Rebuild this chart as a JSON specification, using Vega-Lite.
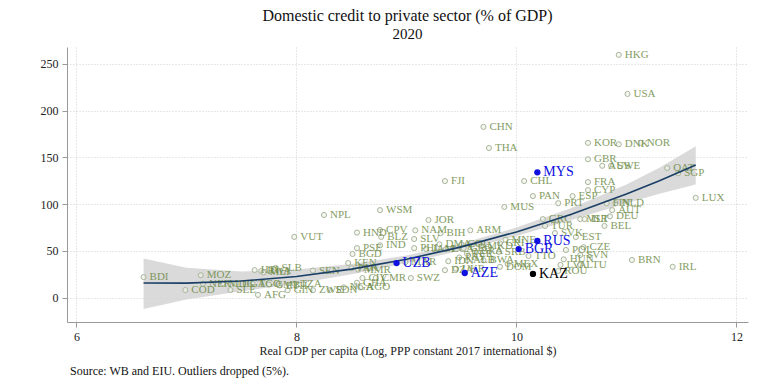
{
  "$schema": "https://vega.github.io/schema/vega-lite/v6.json",
  "padding": {"left": 40, "top": 8, "right": 30, "bottom": 8},
  "title": {"text": "Source: WB and EIU. Outliers dropped (5%).", "orient": "bottom", "anchor": "start", "dx": 30, "font": "Liberation Serif", "fontSize": 12, "fontWeight": "normal", "color": "#111", "offset": 10},
  "datasets": {
    "fit": [
      {"x": 6.61, "y": 15.7, "lo": -12, "hi": 42},
      {"x": 7.0, "y": 15.6, "lo": -2, "hi": 32},
      {"x": 7.5, "y": 17.8, "lo": 7, "hi": 28},
      {"x": 8.0, "y": 22.7, "lo": 15, "hi": 30},
      {"x": 8.5, "y": 30.5, "lo": 25, "hi": 36},
      {"x": 9.0, "y": 41, "lo": 37, "hi": 45},
      {"x": 9.5, "y": 54.3, "lo": 50.5, "hi": 58},
      {"x": 10.0, "y": 70.3, "lo": 66, "hi": 75},
      {"x": 10.5, "y": 89.2, "lo": 83, "hi": 96},
      {"x": 11.0, "y": 110.8, "lo": 101, "hi": 121},
      {"x": 11.3, "y": 125, "lo": 111, "hi": 139},
      {"x": 11.63, "y": 141.9, "lo": 121, "hi": 162}
    ],
    "pts": [
      {"code": "HKG", "x": 10.93, "y": 259.6, "grp": "other"},
      {"code": "USA", "x": 11.01, "y": 217.8, "grp": "other"},
      {"code": "CHN", "x": 9.70, "y": 182.6, "grp": "other"},
      {"code": "THA", "x": 9.75, "y": 160, "grp": "other"},
      {"code": "KOR", "x": 10.65, "y": 165.5, "grp": "other"},
      {"code": "DNK", "x": 10.93, "y": 164, "grp": "other"},
      {"code": "NOR", "x": 11.13, "y": 165.5, "grp": "other"},
      {"code": "GBR", "x": 10.65, "y": 148, "grp": "other"},
      {"code": "AUS", "x": 10.78, "y": 141, "grp": "other"},
      {"code": "SWE", "x": 10.86, "y": 141, "grp": "other"},
      {"code": "QAT", "x": 11.37, "y": 138.6, "grp": "other"},
      {"code": "SGP", "x": 11.47, "y": 133, "grp": "other"},
      {"code": "FJI", "x": 9.35, "y": 124.7, "grp": "other"},
      {"code": "CHL", "x": 10.07, "y": 124.7, "grp": "other"},
      {"code": "FRA", "x": 10.65, "y": 123.6, "grp": "other"},
      {"code": "CYP", "x": 10.65, "y": 115, "grp": "other"},
      {"code": "PAN", "x": 10.15, "y": 108.6, "grp": "other"},
      {"code": "ESP", "x": 10.51, "y": 108.6, "grp": "other"},
      {"code": "LUX", "x": 11.63, "y": 106.7, "grp": "other"},
      {"code": "MUS", "x": 9.89, "y": 97, "grp": "other"},
      {"code": "PRT", "x": 10.38, "y": 101, "grp": "other"},
      {"code": "FIN", "x": 10.82, "y": 101, "grp": "other"},
      {"code": "NLD", "x": 10.90, "y": 101, "grp": "other"},
      {"code": "AUT", "x": 10.87, "y": 93.6, "grp": "other"},
      {"code": "DEU", "x": 10.85, "y": 87, "grp": "other"},
      {"code": "MLT", "x": 10.58, "y": 84, "grp": "other"},
      {"code": "ISR", "x": 10.62, "y": 84, "grp": "other"},
      {"code": "BEL", "x": 10.80, "y": 76.7, "grp": "other"},
      {"code": "GRC", "x": 10.24, "y": 84, "grp": "other"},
      {"code": "TUR", "x": 10.26, "y": 76.7, "grp": "other"},
      {"code": "SVK", "x": 10.35, "y": 69, "grp": "other"},
      {"code": "EST", "x": 10.54, "y": 64.8, "grp": "other"},
      {"code": "CZE", "x": 10.61, "y": 54, "grp": "other"},
      {"code": "POL", "x": 10.45, "y": 51, "grp": "other"},
      {"code": "SVN", "x": 10.58, "y": 45.6, "grp": "other"},
      {"code": "HUN", "x": 10.43, "y": 41, "grp": "other"},
      {"code": "LVA", "x": 10.40, "y": 35, "grp": "other"},
      {"code": "LTU", "x": 10.58, "y": 35, "grp": "other"},
      {"code": "ROU", "x": 10.38, "y": 28.5, "grp": "other"},
      {"code": "BRN", "x": 11.05, "y": 40.3, "grp": "other"},
      {"code": "IRL", "x": 11.42, "y": 33, "grp": "other"},
      {"code": "TTO", "x": 10.11, "y": 44.6, "grp": "other"},
      {"code": "SRB", "x": 9.84, "y": 49, "grp": "other"},
      {"code": "WSM", "x": 8.76, "y": 93.6, "grp": "other"},
      {"code": "NPL", "x": 8.25, "y": 88.4, "grp": "other"},
      {"code": "JOR", "x": 9.20, "y": 83, "grp": "other"},
      {"code": "VUT", "x": 7.98, "y": 65, "grp": "other"},
      {"code": "HND", "x": 8.55, "y": 69.6, "grp": "other"},
      {"code": "CPV", "x": 8.76, "y": 72.4, "grp": "other"},
      {"code": "BLZ", "x": 8.77, "y": 65, "grp": "other"},
      {"code": "SLV", "x": 9.07, "y": 62.7, "grp": "other"},
      {"code": "NAM", "x": 9.08, "y": 72, "grp": "other"},
      {"code": "BIH", "x": 9.31, "y": 69, "grp": "other"},
      {"code": "ARM", "x": 9.58, "y": 72, "grp": "other"},
      {"code": "IND", "x": 8.76, "y": 56, "grp": "other"},
      {"code": "PSE", "x": 8.55, "y": 53, "grp": "other"},
      {"code": "BGD", "x": 8.51, "y": 46.7, "grp": "other"},
      {"code": "PHL", "x": 9.07, "y": 53, "grp": "other"},
      {"code": "SWZ", "x": 9.04, "y": 21, "grp": "other"},
      {"code": "IDN", "x": 9.38, "y": 39, "grp": "other"},
      {"code": "DZA", "x": 9.35, "y": 29.4, "grp": "other"},
      {"code": "MAR", "x": 8.99, "y": 38, "grp": "other"},
      {"code": "DMA", "x": 9.30, "y": 57, "grp": "other"},
      {"code": "LCA", "x": 9.36, "y": 52, "grp": "other"},
      {"code": "JAM", "x": 9.18, "y": 52, "grp": "other"},
      {"code": "GEO", "x": 9.52, "y": 53, "grp": "other"},
      {"code": "MKD", "x": 9.68, "y": 55, "grp": "other"},
      {"code": "COL", "x": 9.50, "y": 57, "grp": "other"},
      {"code": "MNE", "x": 9.90, "y": 62, "grp": "other"},
      {"code": "CRI", "x": 9.85, "y": 58, "grp": "other"},
      {"code": "BRA", "x": 9.62, "y": 50, "grp": "other"},
      {"code": "PER", "x": 9.55, "y": 47, "grp": "other"},
      {"code": "ALB", "x": 9.55, "y": 40, "grp": "other"},
      {"code": "BWA", "x": 9.70, "y": 40, "grp": "other"},
      {"code": "PRY", "x": 9.48, "y": 43, "grp": "other"},
      {"code": "DOM", "x": 9.85, "y": 33, "grp": "other"},
      {"code": "MEX", "x": 9.92, "y": 36, "grp": "other"},
      {"code": "UKR", "x": 9.45, "y": 31, "grp": "other"},
      {"code": "BDI", "x": 6.61, "y": 22, "grp": "other"},
      {"code": "MOZ", "x": 7.13, "y": 24, "grp": "other"},
      {"code": "COD", "x": 6.99, "y": 8.2, "grp": "other"},
      {"code": "SLE", "x": 7.40, "y": 8.2, "grp": "other"},
      {"code": "AFG", "x": 7.65, "y": 3, "grp": "other"},
      {"code": "NER", "x": 7.15, "y": 15, "grp": "other"},
      {"code": "MDG", "x": 7.33, "y": 15, "grp": "other"},
      {"code": "UGA", "x": 7.45, "y": 15, "grp": "other"},
      {"code": "TGO", "x": 7.60, "y": 15, "grp": "other"},
      {"code": "GMB", "x": 7.75, "y": 14, "grp": "other"},
      {"code": "ETH", "x": 7.85, "y": 13, "grp": "other"},
      {"code": "TZA", "x": 7.98, "y": 15, "grp": "other"},
      {"code": "SLB", "x": 7.81, "y": 31.8, "grp": "other"},
      {"code": "RWA", "x": 7.68, "y": 28.5, "grp": "other"},
      {"code": "MLI", "x": 7.70, "y": 27, "grp": "other"},
      {"code": "HTI", "x": 7.62, "y": 29.5, "grp": "other"},
      {"code": "SEN", "x": 8.15, "y": 29, "grp": "other"},
      {"code": "KEN", "x": 8.47, "y": 37, "grp": "other"},
      {"code": "PAK", "x": 8.50, "y": 31.5, "grp": "other"},
      {"code": "MMR", "x": 8.56, "y": 30, "grp": "other"},
      {"code": "GIN", "x": 7.92, "y": 8, "grp": "other"},
      {"code": "ZWE", "x": 8.15, "y": 8, "grp": "other"},
      {"code": "SDN", "x": 8.30, "y": 8, "grp": "other"},
      {"code": "NGA", "x": 8.43, "y": 11, "grp": "other"},
      {"code": "AGO", "x": 8.58, "y": 11, "grp": "other"},
      {"code": "GHA", "x": 8.55, "y": 16, "grp": "other"},
      {"code": "CIV", "x": 8.60, "y": 21, "grp": "other"},
      {"code": "CMR", "x": 8.72, "y": 21, "grp": "other"},
      {"code": "MYS", "x": 10.19, "y": 134, "grp": "focus"},
      {"code": "RUS", "x": 10.19, "y": 60.6, "grp": "focus"},
      {"code": "BGR", "x": 10.02, "y": 52, "grp": "focus"},
      {"code": "UZB", "x": 8.91, "y": 37, "grp": "focus"},
      {"code": "AZE", "x": 9.53, "y": 26.4, "grp": "focus"},
      {"code": "KAZ", "x": 10.15, "y": 25.4, "grp": "kaz"}
    ]
  },
  "vconcat": [
    {
      "title": {"text": "Domestic credit to private sector (% of GDP)", "subtitle": "2020", "anchor": "middle", "font": "Liberation Serif", "fontSize": 16, "fontWeight": "normal", "color": "#111", "subtitleFont": "Liberation Serif", "subtitleFontSize": 15, "subtitleColor": "#111", "subtitlePadding": 3, "offset": 5},
      "width": 681,
      "height": 275,
      "encoding": {
        "x": {"field": "x", "type": "quantitative", "scale": {"domain": [5.914, 12.105], "nice": false, "zero": false}, "axis": {"values": [6, 8, 10, 12], "title": "Real GDP per capita (Log, PPP constant 2017 international $)"}},
        "y": {"field": "y", "type": "quantitative", "scale": {"domain": [-26, 268], "nice": false, "zero": false}, "axis": {"values": [0, 50, 100, 150, 200, 250], "title": null}}
      },
      "layer": [
        {
          "data": {"name": "fit"},
          "mark": {"type": "area", "color": "#d3d3d3", "opacity": 0.85},
          "encoding": {
            "y": {"field": "lo", "type": "quantitative", "scale": {"domain": [-26, 268], "nice": false, "zero": false}, "axis": {"values": [0, 50, 100, 150, 200, 250], "title": null}},
            "y2": {"field": "hi"}
          }
        },
        {
          "data": {"name": "pts"},
          "transform": [{"filter": "datum.grp == 'other'"}],
          "mark": {"type": "point", "shape": "circle", "filled": false, "size": 26, "stroke": "#aab59c", "strokeWidth": 1, "fill": "#eef1e8", "fillOpacity": 0.6}
        },
        {
          "data": {"name": "pts"},
          "transform": [{"filter": "datum.grp == 'other'"}],
          "mark": {"type": "text", "align": "left", "baseline": "middle", "dx": 6, "font": "Liberation Serif", "fontSize": 11, "color": "#6f8c48", "opacity": 0.85},
          "encoding": {"text": {"field": "code", "type": "nominal"}}
        },
        {
          "data": {"name": "fit"},
          "mark": {"type": "line", "color": "#1a3f66", "strokeWidth": 1.6}
        },
        {
          "data": {"name": "pts"},
          "transform": [{"filter": "datum.grp != 'other'"}],
          "mark": {"type": "point", "shape": "circle", "filled": true, "size": 40, "opacity": 1},
          "encoding": {"color": {"field": "grp", "type": "nominal", "scale": {"domain": ["focus", "kaz"], "range": ["#1010e0", "#000000"]}, "legend": null}}
        },
        {
          "data": {"name": "pts"},
          "transform": [{"filter": "datum.grp != 'other'"}],
          "mark": {"type": "text", "align": "left", "baseline": "middle", "dx": 6, "font": "Liberation Serif", "fontSize": 14},
          "encoding": {
            "text": {"field": "code", "type": "nominal"},
            "color": {"field": "grp", "type": "nominal", "scale": {"domain": ["focus", "kaz"], "range": ["#1010e0", "#000000"]}, "legend": null}
          }
        }
      ]
    }
  ],
  "config": {
    "view": {"stroke": null},
    "axis": {"domainColor": "#999999", "tickColor": "#999999", "labelFont": "Liberation Serif", "titleFont": "Liberation Serif", "labelFontSize": 12, "titleFontSize": 12, "titleFontWeight": "normal", "labelColor": "#222222", "titleColor": "#222222", "gridColor": "#d0d0d0", "gridDash": [1, 2], "tickSize": 5, "labelPadding": 4},
    "axisX": {"titlePadding": 3},
    "axisY": {"labelPadding": 4}
  }
}
